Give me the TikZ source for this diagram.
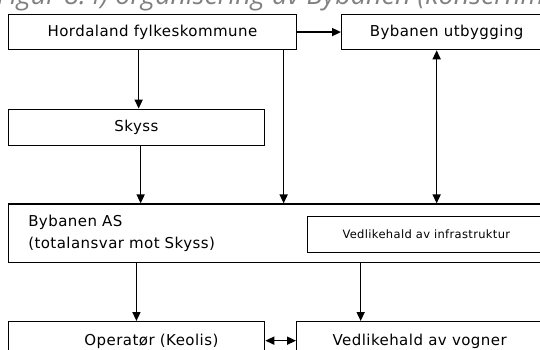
\documentclass[tikz,border=0pt]{standalone}
\usepackage{fontspec}
\setmainfont{DejaVu Sans}
\newfontfamily\titlefont{Open Sans}
\usetikzlibrary{arrows.meta}
\begin{document}
\begin{tikzpicture}[x=1pt,y=-1pt,
  box/.style={draw=black, line width=1.3pt, rectangle, inner sep=0pt, anchor=north west,
    font=\fontsize{15}{21.7}\selectfont\addfontfeatures{LetterSpace=3}},
  smallbox/.style={box, font=\fontsize{11.5}{13}\selectfont\addfontfeatures{LetterSpace=3}},
  conn/.style={line width=1.6pt, -{Triangle[length=9pt,width=8pt]}},
  dconn/.style={line width=1.6pt, {Triangle[length=9pt,width=8pt]}-{Triangle[length=9pt,width=8pt]}},
]
\useasboundingbox (0,0) rectangle (540,349);
\clip (0,0) rectangle (540,349);
\node[anchor=base west, inner sep=0pt, text=black!50,
  font=\titlefont\itshape\fontsize{27}{30}\selectfont] (title) at (-3,4)
  {Figur 8.4) organisering av Bybanen (konsernm};
\node[box, minimum width=288.4pt, minimum height=35.2pt] (hfk) at (7.6,13.8) {Hordaland fylkeskommune};
\node[box, minimum width=210pt, minimum height=35.2pt] (utb) at (341,13.8) {Bybanen utbygging};
\node[box, minimum width=256.4pt, minimum height=36.2pt] (skyss) at (7.6,108.6) {Skyss};
\node[box, minimum width=560pt, minimum height=58.2pt, text width=520pt, inner xsep=14.8pt, align=left] (as) at (7.6,203.4)
  {Bybanen AS\\(totalansvar mot Skyss)};
\node[smallbox, minimum width=238.4pt, minimum height=36.1pt] (infra) at (306.5,215.5) {\raisebox{-2pt}{Vedlikehald av infrastruktur}};
\node[box, minimum width=256.4pt, minimum height=40pt] (op) at (7.6,321) {\hspace*{30pt}Operatør (Keolis)};
\node[box, minimum width=246pt, minimum height=40pt] (vogn) at (296,321) {Vedlikehald av vogner};
% connectors
\draw[conn] (hfk.east) -- (utb.west);
\draw[conn] ([xshift=-13.8pt]hfk.south) -- ([xshift=-13.8pt]hfk.south |- skyss.north);
\draw[conn] ([xshift=131.2pt]hfk.south) -- ([xshift=131.2pt]hfk.south |- as.north);
\draw[dconn] ([xshift=-10pt]utb.south) -- ([xshift=-10pt]utb.south |- as.north);
\draw[conn] ([xshift=4.2pt]skyss.south) -- ([xshift=4.2pt]skyss.south |- as.north);
\draw[conn] (op.north |- as.south) -- (op.north);
\draw[conn] ([xshift=-59pt]vogn.north |- as.south) -- ([xshift=-59pt]vogn.north);
\draw[dconn] ([yshift=1pt]op.east) -- ([yshift=1pt]op.east -| vogn.west);
\end{tikzpicture}
\end{document}
